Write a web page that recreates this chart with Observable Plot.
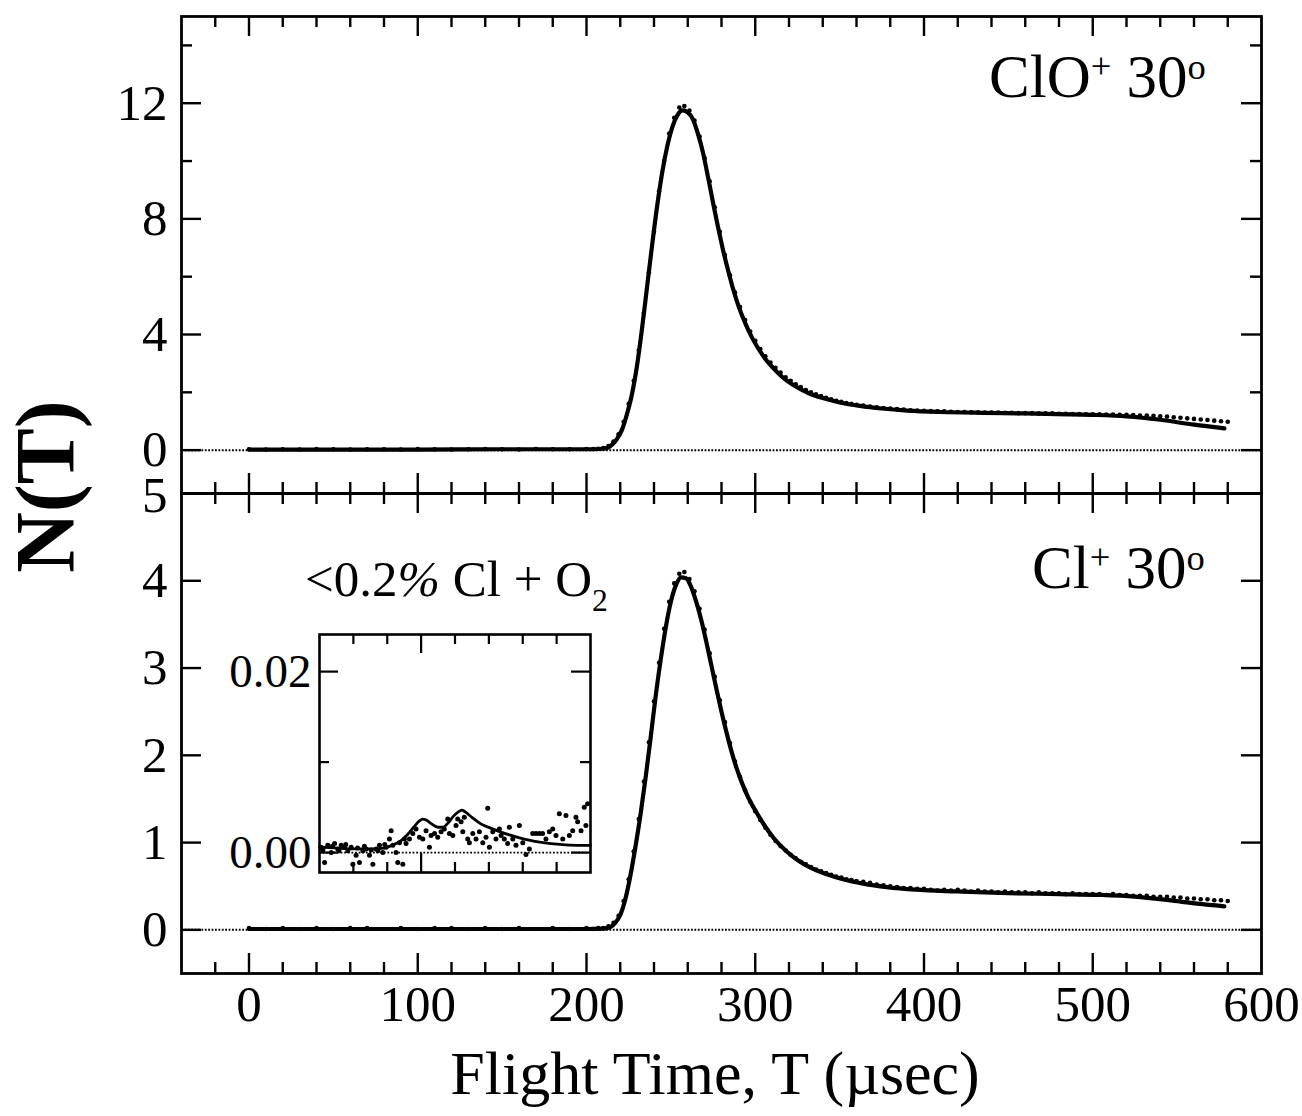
<!DOCTYPE html>
<html>
<head>
<meta charset="utf-8">
<script src="https://cdn.jsdelivr.net/npm/d3@7"></script>
<script src="https://cdn.jsdelivr.net/npm/@observablehq/plot@0.6"></script>
<style>
  body { margin: 0; background: #fff; }
  #wrap { position: relative; width: 1302px; height: 1116px; background: #fff; overflow: hidden;
          font-family: "Liberation Serif", "Times New Roman", serif; color: #000; }
  #wrap svg { position: absolute; }
  .lbl { position: absolute; white-space: nowrap; line-height: 1; }
  .sup { font-size: 0.6em; line-height: 0; }
</style>
</head>
<body>
<div id="wrap"></div>
<script>
// ---------------- data ----------------
const xDomain = [-40, 600];
const xLabels = [0, 100, 200, 300, 400, 500, 600];
const xMajor = [0, 100, 200, 300, 400, 500];
const xMinor = [-20, 20, 40, 60, 80, 120, 140, 160, 180, 220, 240, 260, 280, 320, 340, 360, 380, 420, 440, 460, 480, 520, 540, 560, 580];

const topYDomain = [-1.5, 15];
const topYMajor = [0, 4, 8, 12];
const topYMinor = [2, 6, 10, 14];

const botYDomain = [-0.5, 5];
const botYMajor = [0, 1, 2, 3, 4];
const botYTopLabel = [5];

const insetXDomain = [40, 200];
const insetXMajor = [100];
const insetXMinor = [60, 80, 120, 140, 160, 180];
const insetYDomain = [-0.0022, 0.0241];
const insetYMajor = [0, 0.02];
const insetYMinor = [0.01];

const panelLabels = ["ClO", "Cl"];
const xTitle = "Flight Time, T (\u00b5sec)";
const yTitle = "N(T)";

// ClO+ 30 deg : measured points [T (usec), N(T)]
const cloData = [
  [0,0.03],[10,0.02],[20,0.03],[30,0.02],[40,0.04],[50,0.03],[60,0.02],[70,0.03],[80,0.03],[90,0.02],
  [100,0.04],[110,0.03],[120,0.02],[130,0.03],[140,0.04],[150,0.03],[160,0.02],[170,0.04],[180,0.03],[190,0.03],[200,0.04],
  [204,0.04],[207,0.05],[210,0.07],[213,0.14],[216,0.3],[219,0.55],[222,0.98],[225,1.6],[228,2.4],[231,3.45],
  [234,4.75],[237,6.15],[240,7.55],[243,8.95],[246,10.0],[249,10.95],[252,11.5],[255,11.85],[258,11.9],[261,11.75],
  [264,11.4],[267,10.85],[270,10.1],[273,9.3],[276,8.4],[279,7.55],[282,6.75],[285,6.05],[288,5.45],[291,4.95],
  [294,4.5],[297,4.1],[300,3.78],[303,3.5],[306,3.25],[309,3.03],[312,2.85],[315,2.68],[318,2.52],[321,2.4],
  [324,2.28],[327,2.18],[330,2.08],[333,2.0],[336,1.93],[339,1.87],[342,1.81],[345,1.76],[348,1.71],[351,1.67],
  [354,1.63],[357,1.6],[360,1.57],
  [364,1.54],[368,1.51],[372,1.48],[376,1.46],[380,1.44],[384,1.42],[388,1.4],[392,1.38],[396,1.37],[400,1.36],
  [404,1.35],[408,1.34],[412,1.34],[416,1.33],[420,1.32],[424,1.32],[428,1.31],[432,1.31],[436,1.3],[440,1.3],
  [444,1.3],[448,1.29],[452,1.29],[456,1.28],[460,1.28],[464,1.28],[468,1.27],[472,1.27],[476,1.27],[480,1.26],
  [484,1.26],[488,1.25],[492,1.25],[496,1.24],[500,1.24],[504,1.24],[508,1.23],[512,1.23],[516,1.22],[520,1.22],
  [524,1.21],[528,1.2],[532,1.2],[536,1.19],[540,1.17],[544,1.16],[548,1.14],[552,1.12],[556,1.1],[560,1.08],
  [564,1.06],[568,1.04],[572,1.02],[576,1.0],[580,0.98]
];
// ClO+ 30 deg : fit curve
const cloFit = [
  [0,0.02],[50,0.02],[100,0.02],[150,0.03],[200,0.03],[208,0.04],[212,0.07],[215,0.18],[218,0.38],[221,0.7],
  [224,1.25],[227,1.95],[230,2.95],[233,4.25],[236,5.7],[239,7.15],[242,8.5],[245,9.65],[248,10.55],[251,11.2],
  [254,11.6],[257,11.75],[260,11.68],[263,11.45],[266,10.95],[269,10.3],[272,9.45],[275,8.55],[278,7.7],[281,6.9],
  [284,6.2],[287,5.55],[290,5.0],[294,4.4],[298,3.9],[302,3.5],[306,3.15],[311,2.82],[317,2.48],[324,2.2],
  [332,1.96],[340,1.8],[350,1.65],[362,1.53],[375,1.44],[390,1.37],[410,1.32],[435,1.29],[460,1.27],[485,1.24],
  [500,1.22],[520,1.17],[540,1.05],[560,0.88],[578,0.75]
];

// Cl+ 30 deg : measured points
const clData = [
  [0,0.02],[10,0.01],[20,0.02],[30,0.01],[40,0.02],[50,0.01],[60,0.02],[70,0.02],[80,0.01],[90,0.02],
  [100,0.01],[110,0.02],[120,0.02],[130,0.01],[140,0.02],[150,0.01],[160,0.02],[170,0.01],[180,0.02],[190,0.01],[200,0.02],
  [204,0.01],[207,0.02],[210,0.02],[213,0.04],[216,0.08],[219,0.16],[222,0.33],[225,0.58],[228,0.9],[231,1.27],
  [234,1.7],[237,2.15],[240,2.62],[243,3.06],[246,3.45],[249,3.76],[252,3.97],[255,4.08],[258,4.1],[261,4.02],
  [264,3.88],[267,3.68],[270,3.44],[273,3.17],[276,2.9],[279,2.63],[282,2.38],[285,2.14],[288,1.93],[291,1.75],
  [294,1.6],[297,1.47],[300,1.36],[303,1.26],[306,1.17],[309,1.09],[312,1.02],[315,0.96],[318,0.91],[321,0.86],
  [324,0.82],[327,0.78],[330,0.75],[333,0.72],[336,0.69],[339,0.67],[342,0.65],[345,0.63],[348,0.61],[351,0.6],
  [354,0.58],[357,0.57],[360,0.56],
  [364,0.55],[368,0.54],[372,0.52],[376,0.51],[380,0.5],[384,0.49],[388,0.48],[392,0.48],[396,0.47],[400,0.47],
  [404,0.46],[408,0.45],[412,0.46],[416,0.45],[420,0.46],[424,0.45],[428,0.44],[432,0.45],[436,0.44],[440,0.44],
  [444,0.43],[448,0.44],[452,0.43],[456,0.43],[460,0.43],[464,0.42],[468,0.43],[472,0.42],[476,0.42],[480,0.42],
  [484,0.41],[488,0.42],[492,0.41],[496,0.41],[500,0.41],[504,0.41],[508,0.4],[512,0.41],[516,0.4],[520,0.4],
  [524,0.39],[528,0.39],[532,0.39],[536,0.38],[540,0.38],[544,0.38],[548,0.37],[552,0.37],[556,0.36],[560,0.36],
  [564,0.35],[568,0.35],[572,0.34],[576,0.34],[580,0.33]
];
// Cl+ 30 deg : fit curve
const clFit = [
  [0,0.01],[50,0.01],[100,0.01],[150,0.01],[200,0.01],[210,0.015],[214,0.03],[217,0.08],[220,0.17],[223,0.35],
  [226,0.62],[229,0.95],[232,1.32],[235,1.74],[238,2.2],[241,2.68],[244,3.1],[247,3.47],[250,3.76],[253,3.95],
  [256,4.04],[259,4.03],[262,3.93],[265,3.76],[268,3.55],[271,3.3],[274,3.03],[277,2.76],[280,2.5],[283,2.26],
  [286,2.04],[289,1.85],[292,1.69],[296,1.51],[300,1.37],[305,1.21],[311,1.05],[318,0.91],[325,0.8],[333,0.71],
  [342,0.64],[352,0.58],[364,0.53],[378,0.49],[395,0.46],[420,0.44],[450,0.42],[480,0.41],[505,0.4],[525,0.38],
  [545,0.34],[562,0.3],[578,0.27]
];

// inset: <0.2% Cl + O2 contribution (Cl+ signal, magnified)
const insetData = [
  [41.0,0.0006],[42.0,0.0003],[43.0,-0.0011],[44.9,0.0008],[46.9,0.0000],[47.5,0.0007],[48.9,0.0010],[50.8,0.0004],
  [51.5,0.0002],[52.8,0.0008],[54.7,0.0006],[55.5,0.0009],[56.7,0.0002],[58.7,0.0006],[59.7,-0.0013],[61.6,-0.0003],
  [62.5,0.0005],[63.6,-0.0011],[65.6,0.0002],[66.5,0.0007],[67.5,0.0004],[69.5,-0.0003],[70.5,0.0003],[71.5,-0.0013],
  [73.4,0.0004],[74.5,0.0002],[75.4,0.0008],[77.4,0.0000],[78.5,0.0009],[79.3,0.0006],[81.3,0.0015],[82.3,0.0024],
  [83.3,0.0008],[85.2,0.0000],[86.2,-0.0011],[87.2,0.0011],[89.2,-0.0013],[90.1,0.0015],[91.1,0.0010],[93.1,0.0015],
  [95.1,0.0021],[97.0,0.0026],[99.0,0.0017],[101.0,0.0015],[102.9,0.0024],[104.9,0.0006],[105.9,0.0019],[107.9,0.0021],
  [109.8,0.0017],[111.8,0.0023],[113.7,0.0026],[115.7,0.0037],[116.7,0.0021],[118.7,0.0019],[120.6,0.0030],[121.6,0.0037],
  [123.6,0.0034],[124.6,0.0023],[125.5,0.0039],[127.5,0.0015],[128.5,0.0011],[130.5,0.0021],[132.4,0.0015],[134.4,0.0023],
  [136.4,0.0011],[138.3,0.0017],[139.3,0.0049],[140.3,0.0006],[142.3,0.0023],[144.2,0.0015],[146.2,0.0026],[147.2,0.0019],
  [149.1,0.0015],[151.1,0.0010],[152.1,0.0028],[154.1,0.0015],[156.0,0.0008],[158.0,0.0030],[160.0,0.0011],[161.9,-0.0002],
  [163.9,0.0004],[165.9,0.0021],[167.8,0.0021],[169.8,0.0021],[171.7,0.0021],[173.7,0.0015],[175.7,0.0023],[177.7,0.0026],
  [179.6,0.0019],[181.6,0.0043],[183.6,0.0015],[185.5,0.0041],[187.5,0.0019],[189.5,0.0024],[191.4,0.0039],[192.4,0.0034],
  [194.4,0.0024],[196.3,0.0050],[197.3,0.0030],[198.3,0.0054]
];
const insetFit = [
  [40,0.0006],[50,0.0005],[60,0.0004],[70,0.0004],[78,0.0005],[84,0.0009],[88,0.0013],[92,0.0020],[96,0.0029],[99,0.0035],
  [101,0.0037],[103,0.0036],[106,0.0032],[110,0.0028],[113,0.0028],[116,0.0033],[119,0.0040],[122,0.0045],[124,0.0047],[126,0.0045],
  [130,0.0039],[135,0.0032],[141,0.0027],[148,0.0022],[155,0.0018],[163,0.0014],[172,0.0011],[182,0.0009],[192,0.0008],[200,0.0008]
];

// ---------------- drawing ----------------
const FONT = '"Liberation Serif", "Times New Roman", serif';
const TICKFS = 51;
const wrap = document.getElementById("wrap");
const T = d => d[0], N = d => d[1];

function frameTicks(innerW, innerH, xMaj, xMin, yMaj, yMin, majLen, minLen, sw) {
  const o = {stroke: "black", strokeWidth: sw};
  const m = [];
  for (const [vals, len] of [[xMaj, majLen], [xMin, minLen]]) {
    m.push(Plot.ruleX(vals, {x: d => d, insetTop: innerH - len, ...o}));
    m.push(Plot.ruleX(vals, {x: d => d, insetBottom: innerH - len, ...o}));
  }
  for (const [vals, len] of [[yMaj, majLen], [yMin, minLen]]) {
    m.push(Plot.ruleY(vals, {y: d => d, insetRight: innerW - len, ...o}));
    m.push(Plot.ruleY(vals, {y: d => d, insetLeft: innerW - len, ...o}));
  }
  return m;
}

const baseStyle = {fontFamily: FONT, background: "transparent", overflow: "visible", color: "black"};
const zeroLine = {stroke: "black", strokeWidth: 2, strokeDasharray: "1.8,1.6"};

// y-axis title (own full-height svg, drawn first so it sits underneath)
const titlePlot = Plot.plot({
  width: 120, height: 1116, margin: 0,
  style: {...baseStyle},
  marks: [
    Plot.text([yTitle], {text: d => d, frameAnchor: "top-left", dx: 47, dy: 486, rotate: -90,
                         textAnchor: "middle", lineAnchor: "middle",
                         fontSize: 84, fontWeight: "bold", fontFamily: FONT})
  ]
});
titlePlot.style.left = "0px"; titlePlot.style.top = "0px";
wrap.appendChild(titlePlot);

// top panel
const topH = 493, mL = 181, mR = 41;
const topPlot = Plot.plot({
  width: 1302, height: topH,
  marginLeft: mL, marginRight: mR, marginTop: 16, marginBottom: 0,
  style: {...baseStyle, fontSize: TICKFS + "px"},
  x: {domain: xDomain, axis: null},
  y: {domain: topYDomain, ticks: topYMajor, tickSize: 0, tickPadding: 14, tickFormat: d => String(d), label: null},
  marks: [
    Plot.ruleY([0], zeroLine),
    ...frameTicks(1302 - mL - mR, topH - 16, xMajor, xMinor, topYMajor, topYMinor, 20, 11, 2.4),
    Plot.line(cloFit, {x: T, y: N, stroke: "black", strokeWidth: 4.2, curve: "monotone-x"}),
    Plot.dot(cloData, {x: T, y: N, r: 2.3, fill: "black", stroke: "none"}),
    Plot.frame({stroke: "black", strokeWidth: 2.8})
  ]
});
topPlot.style.left = "0px"; topPlot.style.top = "0px";
wrap.appendChild(topPlot);

// bottom panel
const botTop = 493, botH = 623, botMB = 143;
const botPlot = Plot.plot({
  width: 1302, height: botH,
  marginLeft: mL, marginRight: mR, marginTop: 0, marginBottom: botMB,
  style: {...baseStyle, fontSize: TICKFS + "px"},
  x: {domain: xDomain, ticks: xLabels, tickSize: 0, tickPadding: 11, tickFormat: d => String(d), label: null},
  y: {domain: botYDomain, ticks: botYMajor, tickSize: 0, tickPadding: 14, tickFormat: d => String(d), label: null},
  marks: [
    Plot.ruleY([0], zeroLine),
    ...frameTicks(1302 - mL - mR, botH - botMB, xMajor, xMinor, botYMajor, [], 20, 11, 2.4),
    Plot.line(clFit, {x: T, y: N, stroke: "black", strokeWidth: 4.2, curve: "monotone-x"}),
    Plot.dot(clData, {x: T, y: N, r: 2.3, fill: "black", stroke: "none"}),
    Plot.text(botYTopLabel, {y: d => d, text: d => String(d), frameAnchor: "left", textAnchor: "end", dx: -14, dy: 2, fontSize: TICKFS}),
    Plot.frame({stroke: "black", strokeWidth: 2.8})
  ]
});
botPlot.style.left = "0px"; botPlot.style.top = botTop + "px";
wrap.appendChild(botPlot);

// inset
const inL = 200, inT = 600, inW = 400, inH = 290;
const inML = 119, inMR = 10, inMT = 34, inMB = 18;
const insetPlot = Plot.plot({
  width: inW, height: inH,
  marginLeft: inML, marginRight: inMR, marginTop: inMT, marginBottom: inMB,
  style: {...baseStyle, fontSize: "47px"},
  x: {domain: insetXDomain, axis: null},
  y: {domain: insetYDomain, ticks: insetYMajor, tickSize: 0, tickPadding: 8, tickFormat: d3.format(".2f"), label: null},
  marks: [
    Plot.ruleY([0], {stroke: "black", strokeWidth: 1.8, strokeDasharray: "1.8,1.8"}),
    ...frameTicks(inW - inML - inMR, inH - inMT - inMB, insetXMajor, insetXMinor, insetYMajor, insetYMinor, 19, 10, 2.2),
    Plot.line(insetFit, {x: T, y: N, stroke: "black", strokeWidth: 2.8, curve: "monotone-x"}),
    Plot.dot(insetData, {x: T, y: N, r: 2.5, fill: "black", stroke: "none"}),
    Plot.frame({stroke: "black", strokeWidth: 2.6})
  ]
});
insetPlot.style.left = inL + "px"; insetPlot.style.top = inT + "px";
wrap.appendChild(insetPlot);

// ---------------- text labels ----------------
function addLabel(html, left, baseline, fs, extra) {
  const d = document.createElement("div");
  d.className = "lbl";
  d.style.fontSize = fs + "px";
  d.style.left = left + "px";
  d.style.top = (baseline - 0.8375 * fs) + "px";
  if (extra) Object.assign(d.style, extra);
  d.innerHTML = html;
  wrap.appendChild(d);
  return d;
}
const supPlus = '<span class="sup" style="vertical-align:19px">+</span>';
const supDeg = '<span class="sup" style="vertical-align:18px">o</span>';
addLabel(panelLabels[0] + supPlus + ' 30' + supDeg, 989, 97, 61);
addLabel(panelLabels[1] + supPlus + ' 30' + supDeg, 1032, 588, 61);
addLabel('&lt;0.2<i>%</i> Cl + O<span style="font-size:0.62em;line-height:0;vertical-align:-15px">2</span>', 305, 597, 51);
addLabel(xTitle, 215, 1094, 62, {width: "1000px", textAlign: "center"});
</script>
</body>
</html>
